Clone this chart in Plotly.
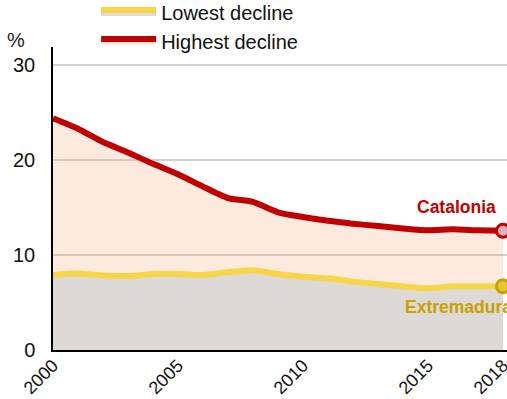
import plotly.graph_objects as go

# Annual rate series by region, 2000-2018 (%)
years = list(range(2000, 2019))
catalonia = [24.4, 23.3, 21.9, 20.8, 19.6, 18.5, 17.2, 16.0, 15.6, 14.5,
             14.0, 13.6, 13.3, 13.05, 12.8, 12.6, 12.7, 12.6, 12.55]
extremadura = [7.9, 8.05, 7.85, 7.8, 8.0, 8.0, 7.9, 8.2, 8.4, 8.0,
               7.7, 7.55, 7.2, 6.95, 6.7, 6.5, 6.7, 6.7, 6.7]
tick_years = [2000, 2005, 2010, 2015, 2018]
y_ticks = [0, 10, 20, 30]

RED = "#C00000"
YELLOW = "#F7D548"
GOLD = "#C9A100"
FONT = "Liberation Sans, Arial, sans-serif"

fig = go.Figure()

fig.add_trace(go.Scatter(
    x=years, y=catalonia, name="Highest decline", mode="lines",
    line=dict(color=RED, width=6, shape="spline", smoothing=0.6),
    fill="tozeroy", fillcolor="rgba(240,150,95,0.2)",
))
fig.add_trace(go.Scatter(
    x=years, y=extremadura, name="Lowest decline", mode="lines",
    line=dict(color=YELLOW, width=6, shape="spline", smoothing=0.6),
    fill="tozeroy", fillcolor="#DCD9D6",
))

# End-point markers
fig.add_trace(go.Scatter(
    x=[years[-1]], y=[catalonia[-1]], mode="markers", showlegend=False,
    marker=dict(size=13, color="#D9B6BC", line=dict(color=RED, width=3)),
))
fig.add_trace(go.Scatter(
    x=[years[-1]], y=[extremadura[-1]], mode="markers", showlegend=False,
    marker=dict(size=13, color="#E8C43A", line=dict(color=GOLD, width=3)),
))

fig.add_annotation(x=years[-1], y=catalonia[-1], text="<b>Catalonia</b>",
                   showarrow=False, xanchor="right", yanchor="middle",
                   xshift=-5, yshift=24, font=dict(family=FONT, size=17.5, color=RED))
fig.add_annotation(x=years[-1], y=extremadura[-1], text="<b>Extremadura</b>",
                   showarrow=False, xanchor="left", yanchor="middle",
                   xshift=-100, yshift=-21, font=dict(family=FONT, size=17.5, color=GOLD))
fig.add_annotation(xref="paper", yref="paper", x=0, y=1, text="%",
                   showarrow=False, xanchor="center", yanchor="middle",
                   xshift=-37, yshift=7, font=dict(family=FONT, size=20, color="#222"))

fig.update_layout(
    width=507, height=399,
    margin=dict(l=53, r=0, t=47, b=49, autoexpand=False),
    plot_bgcolor="white", paper_bgcolor="white",
    font=dict(family=FONT, size=20, color="#111"),
    showlegend=True,
    legend=dict(x=0.095, y=1.18, xanchor="left", yanchor="top",
                traceorder="reversed", itemwidth=55, tracegroupgap=0,
                font=dict(family=FONT, size=20, color="#111"),
                bgcolor="rgba(0,0,0,0)"),
    xaxis=dict(range=[2000, 2018.16], tickvals=tick_years, tickangle=-45,
               showgrid=False, zeroline=False, showline=True,
               linecolor="#000", linewidth=2, ticks="",
               automargin=False, ticklabeloverflow="allow",
               ticklabelstandoff=-4, tickfont=dict(size=18)),
    yaxis=dict(range=[0, 31.9], tickvals=y_ticks, showgrid=True,
               gridcolor="#D2D2D2", gridwidth=1.5, zeroline=False,
               showline=True, linecolor="#000", linewidth=1.5, ticks="",
               ticklabelstandoff=12, automargin=False,
               tickfont=dict(size=20)),
)

fig.write_html("out.html")
